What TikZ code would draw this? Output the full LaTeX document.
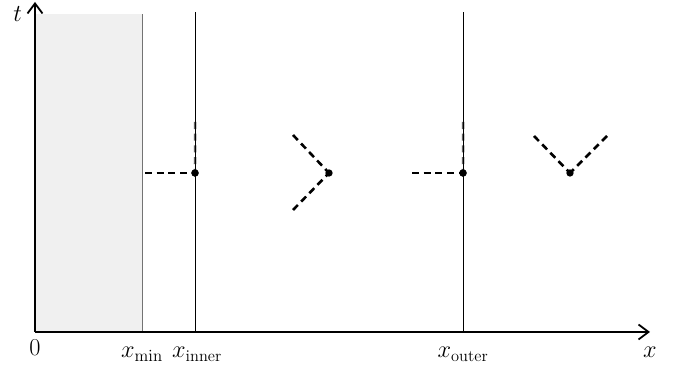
\documentclass[tikz,border=0pt]{standalone}
\usepackage{amsmath}
\usetikzlibrary{positioning,arrows.meta}

\begin{document}
\begin{tikzpicture}[x=0.3mm, y=0.3mm,
  every node/.style={font=\fontsize{20}{24}\selectfont},
  axis/.style={-{Straight Barb[length=3mm, width=4.5mm]}, line width=1.5pt},
  wall/.style={draw=black!55, line width=0.8pt},
  bnd/.style={draw=black, line width=0.8pt},
  ray/.style={line width=2.2pt, dash pattern=on 6pt off 4pt},
  vray/.style={ray, draw=black!60},
  pt/.style={circle, fill, inner sep=0pt, minimum size=2.2mm},
  lab/.style={anchor=base}]
\useasboundingbox (-35,-36) rectangle (654,332);
% excluded region
\fill[black!6] (0,0) rectangle (107,318);
% events
\node[pt] (pA) at (160,159) {};
\node[pt] (pB) at (294,159) {};
\node[pt] (pC) at (428,159) {};
\node[pt] (pD) at (535,159) {};
\coordinate (a1) at (110,159);
\coordinate (a2) at (160.2,210);
\coordinate (b1) at (258,197);
\coordinate (b2) at (258,122);
\coordinate (c1) at (377,159);
\coordinate (c2) at (428.2,210);
\coordinate (d1) at (499,196);
\coordinate (d2) at (572,196);
\draw[vray] (a2) -- (pA.center);
\draw[vray] (c2) -- (pC.center);
% boundaries
\draw[wall] (107,0) -- (107,318);
\draw[bnd] (160,0) -- (160,320);
\draw[bnd] (428,0) -- (428,320);
\draw[ray] (a1) -- (pA.center);
\draw[ray] (b1) -- (pB.center);
\draw[ray] (b2) -- (pB.center);
\draw[ray] (c1) -- (pC.center);
\draw[ray] (d1) -- (pD.center);
\draw[ray] (d2) -- (pD.center);
\node[pt] at (pA) {};
\node[pt] at (pC) {};
% axes
\coordinate (O) at (0,0);
\coordinate (xend) at (615,0);
\coordinate (tend) at (0,330);
\draw[axis] (O) -- (xend);
\draw[axis] (O) -- (tend);
\node[lab, anchor=base east] (tlab) at (-9,310) {$t$};
\node[lab] (xlab) at (615,-26) {$x$};
\node[lab] (zero) at (0,-24) {$0$};
\node[lab] (xmin) at (107,-26) {$x_{\min}$};
\node[lab] (xinner) at (162,-26) {$x_{\text{inner}}$};
\node[lab] (xouter) at (428,-26) {$x_{\text{outer}}$};
\end{tikzpicture}
\end{document}
